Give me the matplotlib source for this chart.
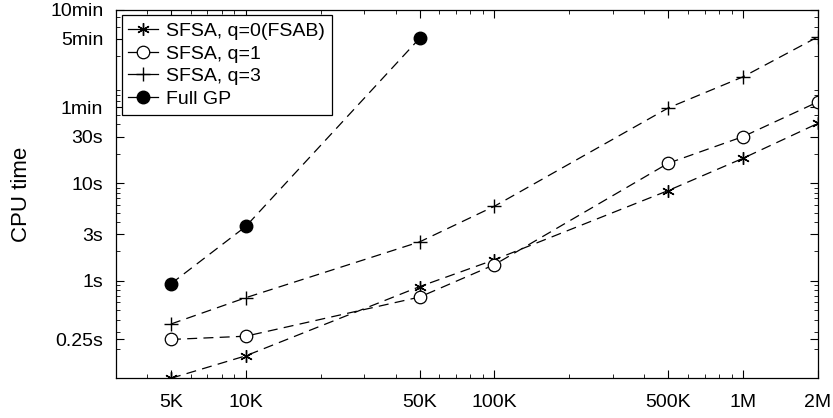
import matplotlib
matplotlib.use("Agg")
import matplotlib.pyplot as plt
from matplotlib.lines import Line2D
from matplotlib.ticker import LogLocator, NullFormatter, FixedLocator

plt.rcParams['font.family'] = ['Liberation Sans', 'DejaVu Sans']

# data (seconds vs sample size)
sizes = [5e3, 1e4, 5e4, 1e5, 5e5, 1e6, 2e6]
q0 = [0.1, 0.17, 0.87, 1.64, 8.4, 18, 41]
q1 = [0.25, 0.27, 0.68, 1.46, 16, 30, 68]
q3 = [0.36, 0.67, 2.5, 5.8, 59, 123, 316]
gp_sizes = [5e3, 1e4, 5e4]
gp = [0.93, 3.6, 305]

xticks = [5e3, 1e4, 5e4, 1e5, 5e5, 1e6, 2e6]
xlabels = ['5K', '10K', '50K', '100K', '500K', '1M', '2M']
yticks = [0.25, 1, 3, 10, 30, 60, 300, 600]
ylabels = ['0.25s', '1s', '3s', '10s', '30s', '1min', '5min', '10min']
names = ['SFSA, q=0(FSAB)', 'SFSA, q=1', 'SFSA, q=3', 'Full GP']

fig = plt.figure(figsize=(8.33, 4.18), dpi=100)
ax = fig.add_axes([0.139, 0.095, 0.843, 0.882])

star = dict(marker=(6, 2, 0), ms=9, mew=1)
circ = dict(marker='o', ms=9, mfc='white', mew=0.9)
plus = dict(marker='+', ms=10, mew=1)
dot = dict(marker='o', ms=9, mfc='black')

kw = dict(color='black', ls=(0, (8, 5)), lw=0.9)
ax.plot(sizes, q0, **star, **kw)
ax.plot(sizes, q1, **circ, **kw)
ax.plot(sizes, q3, **plus, **kw)
ax.plot(gp_sizes, gp, **dot, **kw)

ax.set_xscale('log')
ax.set_yscale('log')
ax.set_xlim(3000, 2e6)
ax.set_ylim(0.1, 600)

ax.xaxis.set_major_locator(FixedLocator(xticks))
ax.set_xticklabels(xlabels)
ax.yaxis.set_major_locator(FixedLocator(yticks))
ax.set_yticklabels(ylabels)
ax.xaxis.set_minor_locator(LogLocator(base=10, subs=range(2, 10), numticks=20))
ax.yaxis.set_minor_locator(LogLocator(base=10, subs=range(2, 10), numticks=20))
ax.xaxis.set_minor_formatter(NullFormatter())
ax.yaxis.set_minor_formatter(NullFormatter())

ax.tick_params(which='both', direction='in', top=True, right=True, labelsize=14)
ax.tick_params(which='major', length=6, width=0.8)
ax.tick_params(which='minor', length=3, width=0.6)
ax.tick_params(axis='y', which='major', pad=9)
ax.tick_params(axis='x', which='major', pad=11)
for s in ax.spines.values():
    s.set_linewidth(0.9)

ax.set_ylabel('CPU time', fontsize=16, labelpad=13)

# solid handles in the legend
handles = [Line2D([], [], color='black', lw=0.9, **m) for m in (star, circ, plus, dot)]
leg = ax.legend(handles, names, loc='upper left', fontsize=14, fancybox=False,
                edgecolor='black', framealpha=1, handlelength=1.5,
                handletextpad=0.45, labelspacing=0.26, borderpad=0.35,
                borderaxespad=0.3)
leg.get_frame().set_linewidth(0.9)

fig.savefig('out.png', dpi=100)
